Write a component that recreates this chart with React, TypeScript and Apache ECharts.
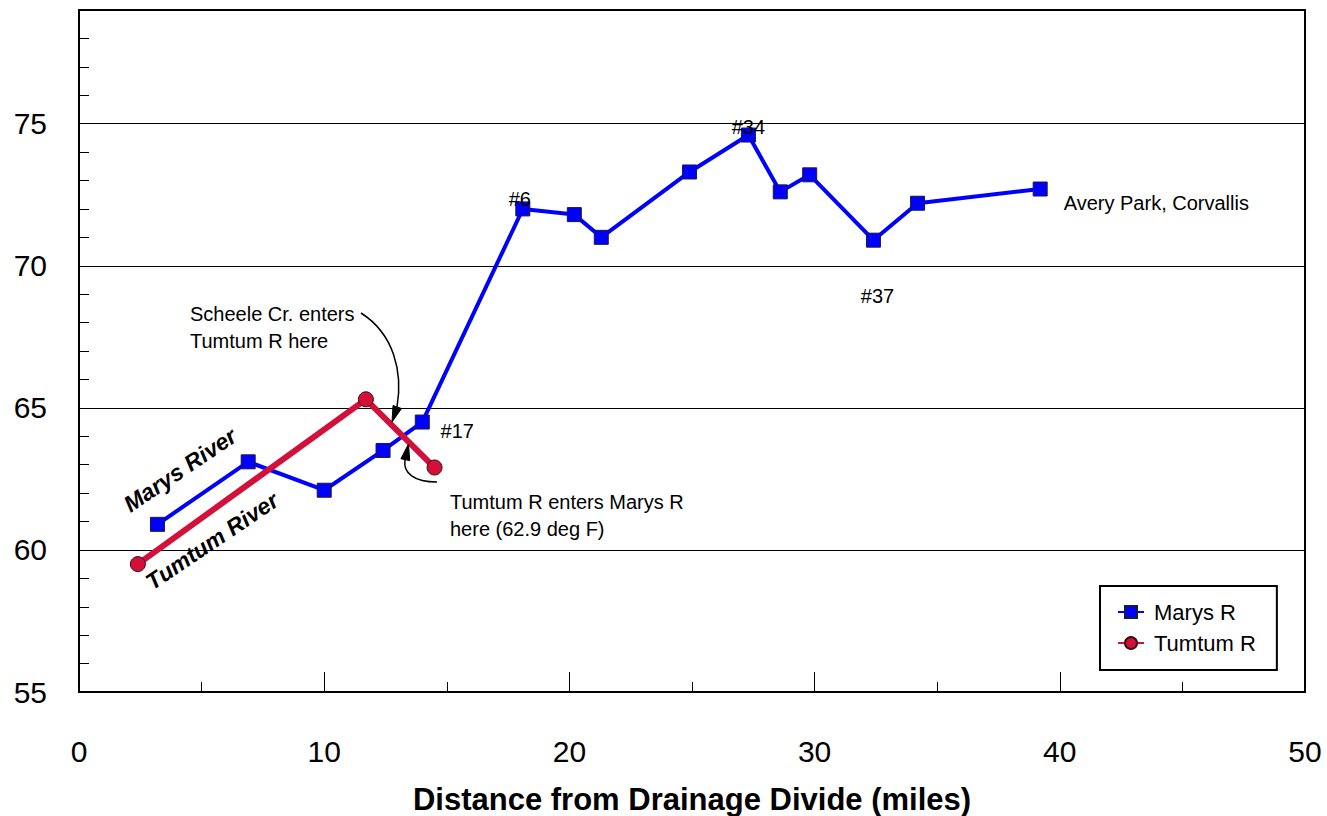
import React, { useEffect, useRef } from 'react';
import * as echarts from 'echarts';

// Marys River (blue squares)
const marysDistance = [3.2, 6.9, 10.0, 12.4, 14.0, 18.1, 20.2, 21.3, 24.9, 27.3, 28.6, 29.8, 32.4, 34.2, 39.2];
const marysTemp = [60.9, 63.1, 62.1, 63.5, 64.5, 72.0, 71.8, 71.0, 73.3, 74.6, 72.6, 73.2, 70.9, 72.2, 72.7];
const marysSites = ['', '', '', '', '#17', '#6', '', '', '', '#34', '', '', '#37', '', 'Avery Park, Corvallis'];

// Tumtum River (red circles)
const tumtumDistance = [2.4, 11.7, 14.5];
const tumtumTemp = [59.5, 65.3, 62.9];

const xMin = 0;
const xMax = 50;
const yMin = 55;
const yMax = 79;

const FONT = '"Liberation Sans", Arial, Helvetica, sans-serif';
const BLUE = '#0000FF';
const RED = '#D2103A';

const App: React.FC = () => {
  const chartRef = useRef<HTMLDivElement>(null);

  useEffect(() => {
    if (!chartRef.current) return;
    const chart = echarts.init(chartRef.current, null, { renderer: 'svg' });

    // where each site label sits relative to its point
    const placement: Record<number, any> = {
      4: { position: 'inside', offset: [35, 9] },
      5: { position: 'inside', offset: [-3, -10] },
      9: { position: 'inside', offset: [0, -8] },
      12: { position: 'inside', offset: [4, 56] },
      14: { position: 'right', distance: 16, offset: [0, 14] },
    };

    const marysData = marysDistance.map((d, i) => {
      const item: any = { value: [d, marysTemp[i]] };
      if (marysSites[i]) {
        item.label = {
          show: true,
          formatter: marysSites[i],
          color: '#000',
          fontSize: 20,
          fontFamily: FONT,
          ...placement[i],
        };
      }
      return item;
    });
    const tumtumData = tumtumDistance.map((d, i) => [d, tumtumTemp[i]]);

    const deg = Math.PI / 180;

    const option: any = {
      animation: false,
      backgroundColor: '#fff',
      textStyle: { fontFamily: FONT, color: '#000' },
      grid: {
        left: 79,
        right: 22,
        top: 10,
        bottom: 124,
        show: true,
        borderColor: '#000',
        borderWidth: 2,
        outerBoundsMode: 'none',
        containLabel: false,
      },
      xAxis: {
        type: 'value',
        min: xMin,
        max: xMax,
        interval: 10,
        axisLine: { show: true, lineStyle: { color: '#000', width: 2 } },
        axisTick: { show: true, inside: true, length: 20, lineStyle: { color: '#000', width: 1 } },
        minorTick: { show: true, splitNumber: 2, length: 10, lineStyle: { color: '#000', width: 1 } },
        splitLine: { show: false },
        minorSplitLine: { show: false },
        axisLabel: { fontSize: 30, margin: 44, color: '#000', fontFamily: FONT },
        name: 'Distance from Drainage Divide (miles)',
        nameLocation: 'middle',
        nameGap: 92,
        nameTextStyle: { fontSize: 31, fontWeight: 'bold', color: '#000', fontFamily: FONT },
      },
      yAxis: {
        type: 'value',
        min: yMin,
        max: yMax,
        interval: 1,
        axisLine: { show: true, lineStyle: { color: '#000', width: 2 } },
        axisTick: { show: true, inside: true, length: 10, lineStyle: { color: '#000', width: 1 } },
        axisLabel: {
          fontSize: 30,
          margin: 32,
          color: '#000',
          fontFamily: FONT,
          formatter: (v: number) => (v % 5 === 0 && v < yMax ? String(v) : ''),
        },
        splitLine: {
          show: true,
          lineStyle: {
            color: ['#000', 'rgba(0,0,0,0)', 'rgba(0,0,0,0)', 'rgba(0,0,0,0)', 'rgba(0,0,0,0)'],
            width: 1,
          },
        },
      },
      legend: {
        orient: 'vertical',
        left: 1100,
        top: 586,
        padding: [15, 21, 16, 17],
        itemGap: 9,
        itemWidth: 26,
        itemHeight: 15,
        borderColor: '#000',
        borderWidth: 2,
        backgroundColor: '#fff',
        textStyle: { fontSize: 22, color: '#000', fontFamily: FONT, padding: [0, 0, 0, 5] },
        data: ['Marys R', 'Tumtum R'],
      },
      series: [
        {
          name: 'Marys R',
          type: 'line',
          data: marysData,
          symbol: 'rect',
          symbolSize: 14,
          lineStyle: { color: BLUE, width: 4 },
          itemStyle: { color: BLUE, borderColor: '#1a1a40', borderWidth: 1 },
          z: 3,
        },
        {
          name: 'Tumtum R',
          type: 'line',
          data: tumtumData,
          symbol: 'circle',
          symbolSize: 15,
          lineStyle: { color: RED, width: 6 },
          itemStyle: { color: RED, borderColor: '#3a0a10', borderWidth: 1 },
          z: 4,
        },
      ],
      graphic: [
        {
          type: 'text',
          x: 190,
          y: 300,
          z: 100,
          style: {
            text: 'Scheele Cr. enters\nTumtum R here',
            font: `20px ${FONT}`,
            lineHeight: 27,
            fill: '#000',
            textAlign: 'left',
            textVerticalAlign: 'top',
          },
        },
        {
          type: 'bezierCurve',
          z: 100,
          shape: { x1: 361, y1: 313, cpx1: 394, cpy1: 334, cpx2: 403, cpy2: 372, x2: 397, y2: 407 },
          style: { stroke: '#000', lineWidth: 1.5, fill: null },
        },
        {
          type: 'polygon',
          z: 100,
          shape: { points: [[392, 422], [401.5, 408.5], [393, 405.5]] },
          style: { fill: '#000', stroke: '#000', lineWidth: 1 },
        },
        {
          type: 'text',
          x: 450,
          y: 488,
          z: 100,
          style: {
            text: 'Tumtum R enters Marys R\nhere (62.9 deg F)',
            font: `20px ${FONT}`,
            lineHeight: 27,
            fill: '#000',
            textAlign: 'left',
            textVerticalAlign: 'top',
          },
        },
        {
          type: 'bezierCurve',
          z: 100,
          shape: { x1: 437, y1: 482, cpx1: 414, cpy1: 482, cpx2: 403, cpy2: 473, x2: 405, y2: 460 },
          style: { stroke: '#000', lineWidth: 1.5, fill: null },
        },
        {
          type: 'polygon',
          z: 100,
          shape: { points: [[408.5, 444], [409.7, 460.6], [400.9, 458.8]] },
          style: { fill: '#000', stroke: '#000', lineWidth: 1 },
        },
        {
          type: 'text',
          x: 180,
          y: 470,
          rotation: 34 * deg,
          z: 100,
          style: {
            text: 'Marys River',
            font: `italic bold 23px ${FONT}`,
            fill: '#000',
            textAlign: 'center',
            textVerticalAlign: 'middle',
          },
        },
        {
          type: 'text',
          x: 212,
          y: 541,
          rotation: 34 * deg,
          z: 100,
          style: {
            text: 'Tumtum River',
            font: `italic bold 23px ${FONT}`,
            fill: '#000',
            textAlign: 'center',
            textVerticalAlign: 'middle',
          },
        },
      ],
    };

    chart.setOption(option);

    return () => {
      chart.dispose();
    };
  }, []);

  return (
    <div
      ref={chartRef}
      style={{ position: 'fixed', left: 0, top: 0, width: 1327, height: 816, background: '#fff' }}
    />
  );
};

export default App;
